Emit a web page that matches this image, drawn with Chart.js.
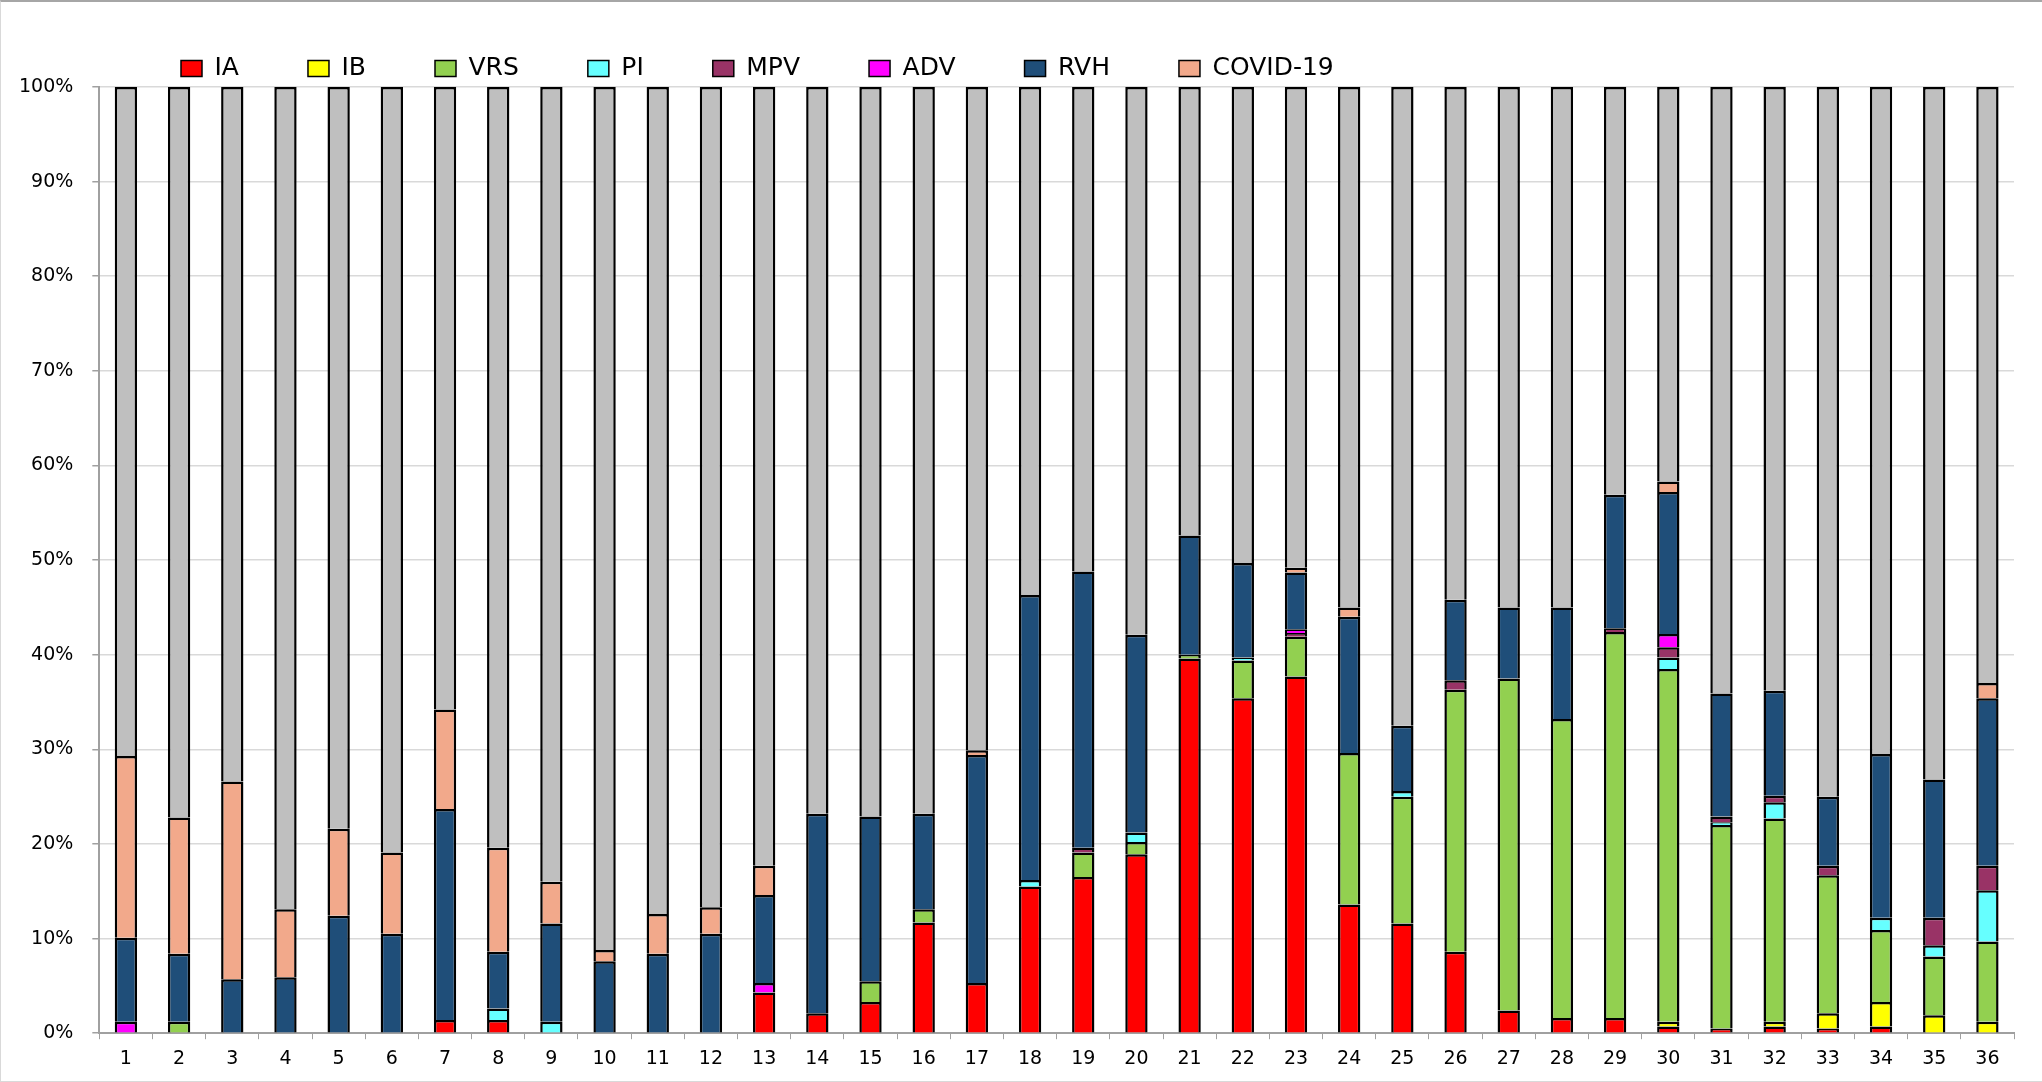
<!DOCTYPE html>
<html>
<head>
<meta charset="utf-8">
<script src="https://cdn.jsdelivr.net/npm/chart.js@4.4.1/dist/chart.umd.min.js"></script>
<style>
    body { margin: 0; background: #fff; }
    #wrap { position: relative; width: 2042px; height: 1082px; }
    #frame {
        position: absolute; left: 0; top: 0; width: 2042px; height: 1082px;
        box-sizing: border-box; pointer-events: none;
        border-top: 2px solid #a6a6a6;
        border-left: 1px solid #d9d9d9;
        border-bottom: 1px solid #d9d9d9;
    }
</style>
</head>
<body>
<div id="wrap">
    <canvas id="grafico" width="2042" height="1082"></canvas>
    <div id="frame"></div>
</div>
<script>
// Semanas
const semanas = ['1', '2', '3', '4', '5', '6', '7', '8', '9', '10', '11', '12',
    '13', '14', '15', '16', '17', '18', '19', '20', '21', '22', '23', '24',
    '25', '26', '27', '28', '29', '30', '31', '32', '33', '34', '35', '36'];

// porcentaje de cada virus por semana
const IA = [0, 0, 0, 0, 0, 0, 1.4, 1.4, 0, 0, 0, 0, 4.3, 2.1, 3.3, 11.7, 5.3, 15.5,
    16.5, 18.9, 39.6, 35.4, 37.7, 13.6, 11.6, 8.6, 2.4, 1.6, 1.6, 0.7, 0.5, 0.7, 0.5, 0.7, 0, 0];
const IB = [0, 0, 0, 0, 0, 0, 0, 0, 0, 0, 0, 0, 0, 0, 0, 0, 0, 0,
    0, 0, 0, 0, 0, 0, 0, 0, 0, 0, 0, 0.5, 0, 0.5, 1.6, 2.6, 1.9, 1.2];
const VRS = [0, 1.2, 0, 0, 0, 0, 0, 0, 0, 0, 0, 0, 0, 0, 2.2, 1.4, 0, 0,
    2.6, 1.3, 0.4, 4.0, 4.2, 16.0, 13.4, 27.7, 35.1, 31.6, 40.8, 37.3, 21.5, 21.5, 14.6, 7.6, 6.2, 8.5];
const PI = [0, 0, 0, 0, 0, 0, 0, 1.2, 1.2, 0, 0, 0, 0, 0, 0, 0, 0, 0.7,
    0, 1.0, 0, 0.3, 0, 0, 0.6, 0, 0, 0, 0, 1.2, 0.3, 1.7, 0, 1.3, 1.2, 5.4];
const MPV = [0, 0, 0, 0, 0, 0, 0, 0, 0, 0, 0, 0, 0, 0, 0, 0, 0, 0,
    0.5, 0, 0, 0, 0.4, 0, 0, 1.0, 0, 0, 0.4, 1.1, 0.6, 0.7, 1.0, 0, 2.9, 2.6];
const ADV = [1.2, 0, 0, 0, 0, 0, 0, 0, 0, 0, 0, 0, 1.0, 0, 0, 0, 0, 0,
    0, 0, 0, 0, 0.4, 0, 0, 0, 0, 0, 0, 1.4, 0, 0, 0, 0, 0, 0];
const RVH = [8.9, 7.2, 5.7, 5.9, 12.4, 10.5, 22.3, 6.0, 10.4, 7.6, 8.4, 10.5, 9.3, 21.1, 17.4, 10.1, 24.1, 30.1,
    29.2, 20.9, 12.6, 10.0, 6.0, 14.4, 6.9, 8.5, 7.5, 11.8, 14.1, 15.0, 13.0, 11.1, 7.3, 17.3, 14.6, 17.7];
const COVID = [19.2, 14.4, 20.9, 7.2, 9.2, 8.6, 10.5, 11.0, 4.4, 1.2, 4.2, 2.8, 3.1, 0, 0, 0, 0.5, 0,
    0, 0, 0, 0, 0.5, 1.0, 0, 0, 0, 0, 0, 1.1, 0, 0, 0, 0, 0, 1.6];
const negativos = [70.7, 77.2, 73.4, 86.9, 78.4, 80.9, 65.8, 80.4, 84.0, 91.2, 87.4, 86.7, 82.3, 76.8, 77.1, 76.8, 70.1, 53.7,
    51.2, 57.9, 47.4, 50.3, 50.8, 55.0, 67.5, 54.2, 55.0, 55.0, 43.1, 41.7, 64.1, 63.8, 75.0, 70.5, 73.2, 63.0];

const ticksY = ['0%', '10%', '20%', '30%', '40%', '50%', '60%', '70%', '80%', '90%', '100%'];

Chart.defaults.font.family = 'DejaVu Sans';
Chart.defaults.color = '#000';

// los ceros no se dibujan
function serie(label, data, color) {
    return {
        label: label,
        data: data.map(v => v === 0 ? null : v),
        backgroundColor: color,
        borderColor: '#000',
        borderWidth: 2.5
    };
}

// la leyenda va mas a la izquierda y un poco mas abajo que la de Chart.js
const moverLeyenda = {
    id: 'moverLeyenda',
    afterLayout(chart) {
        const pad = chart.legend.options.labels.padding;
        chart.legend.left = 181 - pad;
        chart.legend.top = 56 - pad;
    }
};

const ctx = document.getElementById('grafico').getContext('2d');
new Chart(ctx, {
    type: 'bar',
    data: {
        labels: semanas,
        datasets: [
            serie('IA', IA, '#ff0000'),
            serie('IB', IB, '#ffff00'),
            serie('VRS', VRS, '#92d050'),
            serie('PI', PI, '#66ffff'),
            serie('MPV', MPV, '#993366'),
            serie('ADV', ADV, '#ff00ff'),
            serie('RVH', RVH, '#1f4e79'),
            serie('COVID-19', COVID, '#f2a98b'),
            serie('Negativos', negativos, '#bfbfbf')
        ]
    },
    options: {
        responsive: false,
        animation: false,
        layout: { padding: { left: 0, right: 28, top: -17, bottom: 4 } },
        datasets: {
            bar: { categoryPercentage: 1, barPercentage: 0.42 }
        },
        plugins: {
            tooltip: { enabled: false },
            legend: {
                position: 'top',
                align: 'start',
                labels: {
                    font: { size: 25 },
                    boxWidth: 21,
                    boxHeight: 16,
                    padding: 69,
                    generateLabels(chart) {
                        return Chart.defaults.plugins.legend.labels.generateLabels(chart)
                            .filter(item => item.text !== 'Negativos')
                            .map(item => Object.assign(item, { lineWidth: 1.5 }));
                    }
                }
            }
        },
        scales: {
            x: {
                stacked: true,
                grid: {
                    display: true,
                    drawOnChartArea: false,
                    tickLength: 6,
                    tickColor: '#a0a0a0'
                },
                border: { color: '#a0a0a0', width: 2 },
                ticks: { font: { size: 19 }, padding: 8, maxRotation: 0 }
            },
            y: {
                stacked: true,
                min: 0,
                max: 100,
                grid: {
                    color: '#d9d9d9',
                    lineWidth: 1.5,
                    tickLength: 7,
                    tickColor: '#a0a0a0'
                },
                border: { color: '#a0a0a0', width: 2 },
                ticks: {
                    stepSize: 10,
                    padding: 19,
                    font: { size: 19 },
                    callback: (v, i) => ticksY[i]
                }
            }
        }
    },
    plugins: [moverLeyenda]
});
</script>
</body>
</html>
